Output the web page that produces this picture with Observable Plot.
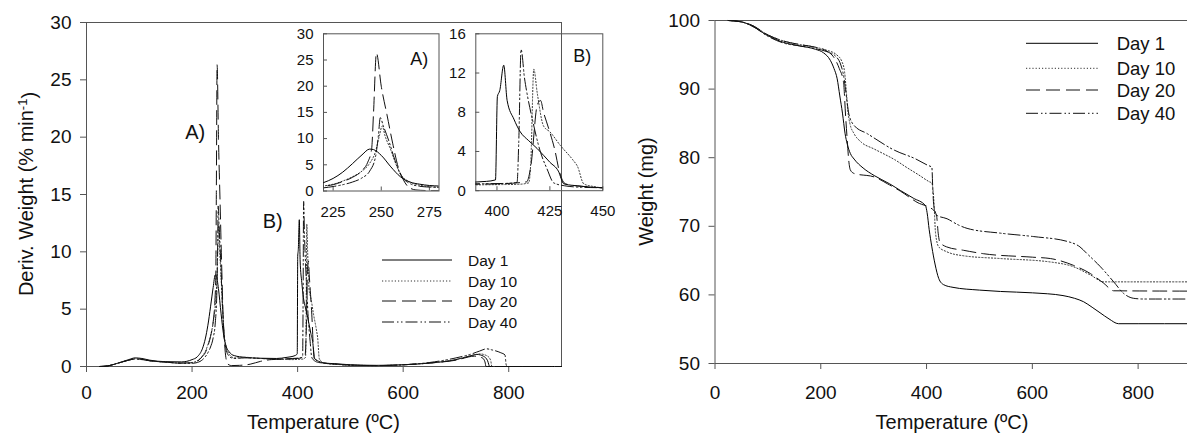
<!DOCTYPE html>
<html><head><meta charset="utf-8">
<script src="https://cdn.jsdelivr.net/npm/d3@7"></script>
<script src="https://cdn.jsdelivr.net/npm/@observablehq/plot@0.6"></script>
<style>
html,body{margin:0;padding:0;background:#fff;overflow:hidden}
#wrap{position:relative;width:1187px;height:439px;overflow:hidden;background:#fff;font-family:"Liberation Sans",Arial,sans-serif}
#wrap svg{position:absolute;top:0}
</style></head><body><div id="wrap"></div>
<script>
// ---------- data: DTG (deriv. weight, % min-1) as [temperature, value] ----------
const dtgDay1 = [[25,0],[40,0.05],[60,0.3],[80,0.6],[92,0.75],[105,0.7],[120,0.55],[150,0.42],[180,0.4],[200,0.6],[210,0.85],[220,1.6],[225,2.4],[230,3.6],[235,5.2],[240,6.9],[244,8.0],[246,7.9],[250,6.8],[255,4.6],[260,2.7],[265,1.7],[270,1.3],[275,1.05],[280,0.95],[300,0.8],[330,0.72],[360,0.7],[380,0.8],[395,0.95],[399.3,1.1],[400.2,9.6],[401.3,10.2],[403.2,12.8],[404.8,9.2],[408,7.3],[411,6.0],[415,5.1],[419,4.3],[425,2.9],[429,2.0],[431.6,0.7],[440,0.45],[450,0.3],[470,0.25],[500,0.15],[550,0.1],[600,0.15],[650,0.3],[700,0.6],[725,0.9],[740,1.05],[752,0.9],[760,0.5],[764,0],[800,0],[900,0]];
const dtgDay10 = [[25,0],[40,0.05],[60,0.3],[80,0.55],[92,0.68],[105,0.62],[120,0.5],[150,0.38],[180,0.3],[200,0.35],[210,0.5],[220,0.95],[225,1.3],[230,1.9],[235,2.7],[240,3.8],[244,5.3],[247,7.5],[249,10.5],[250.5,12.4],[252,10.5],[255,7.8],[258,4.8],[260,3.2],[265,1.7],[270,1.1],[275,0.85],[280,0.75],[300,0.8],[330,0.7],[360,0.65],[390,0.6],[400,0.62],[410,0.65],[415,0.8],[416,3],[417.4,12.4],[419,10],[422,6.6],[425,6.0],[430,4.6],[436,3.1],[438,2.5],[441,0.7],[445,0.45],[450,0.3],[470,0.2],[500,0.12],[550,0.08],[600,0.15],[650,0.3],[700,0.6],[730,0.95],[745,1.1],[760,0.9],[766,0.5],[768,0],[900,0]];
const dtgDay20 = [[25,0],[40,0.05],[60,0.3],[80,0.55],[92,0.68],[105,0.62],[120,0.5],[150,0.38],[180,0.3],[200,0.32],[210,0.45],[220,0.9],[225,1.2],[230,1.8],[235,2.6],[240,3.9],[243,5.5],[245,8.0],[246,15],[247.5,26.3],[250,20],[253,14.5],[256,9],[259,4.3],[261,2.5],[264,0.8],[268,0.2],[275,0.08],[290,0.1],[310,0.2],[330,0.45],[350,0.6],[380,0.65],[400,0.7],[414,0.9],[416,2.5],[419,8.7],[420.6,9.2],[422,8.0],[424.5,6.3],[427.6,3.9],[429.2,2.2],[432.4,0.7],[440,0.45],[450,0.3],[470,0.2],[500,0.12],[550,0.08],[600,0.15],[650,0.3],[700,0.55],[735,0.9],[750,0.75],[755,0.4],[757,0],[900,0]];
const dtgDay40 = [[25,0],[40,0.05],[60,0.3],[80,0.55],[92,0.65],[105,0.6],[120,0.5],[150,0.38],[180,0.28],[200,0.28],[210,0.35],[220,0.6],[225,0.85],[230,1.2],[235,1.7],[240,2.5],[244,3.8],[247,6.5],[248.5,10.5],[249.5,14.0],[251,12.5],[254,9.5],[257,6.0],[260,3.2],[265,1.4],[270,0.9],[275,0.75],[280,0.7],[300,0.75],[330,0.7],[360,0.65],[390,0.7],[405,0.75],[409.5,0.85],[410.3,5],[411.4,14.4],[413,11.5],[414.3,9.8],[416.7,7.3],[420.6,3.9],[423.7,2.2],[426.8,0.8],[432,0.5],[440,0.35],[450,0.3],[470,0.22],[500,0.12],[550,0.08],[600,0.15],[650,0.35],[700,0.75],[730,1.1],[745,1.35],[758,1.54],[768,1.45],[785,1.2],[793,1.0],[795,0.2],[797,0],[900,0]];

// ---------- data: TGA (weight, mg) as [temperature, value] ----------
const tgaDay1 = [[25,100],[50,99.8],[70,99.2],[100,97.8],[130,96.8],[160,96.3],[190,95.8],[205,95.3],[218,94.2],[225,93],[231,91.5],[236,89],[241,86.5],[246,83.5],[250,82],[256,80.6],[263,79.8],[280,78.5],[301,77.4],[330,76.2],[351,75.2],[375,74.1],[398,73.0],[401,72],[405,69.5],[410,67],[416,64.5],[423,62.4],[432,61.5],[450,61.1],[500,60.7],[540,60.5],[600,60.3],[658,59.9],[680,59.5],[697,59],[713,58.2],[728,57.4],[745,56.5],[763,55.8],[800,55.8],[900,55.8]];
const tgaDay10 = [[25,100],[50,99.8],[70,99.3],[100,97.9],[130,97],[160,96.5],[190,96.1],[210,95.7],[230,95],[240,94],[245,92.5],[248,90],[251,87],[255,85],[263,83.5],[276,82.3],[300,81.3],[318,80.6],[340,79.7],[362,78.6],[385,77.5],[405,76.5],[410,76.3],[414,73.5],[417,69],[423,67],[438,66.3],[470,65.7],[540,65.3],[634,64.8],[678,64.1],[710,62.9],[735,61.9],[900,61.9]];
const tgaDay20 = [[25,100],[50,99.8],[70,99.3],[100,97.9],[130,97],[160,96.5],[190,96.1],[210,95.6],[225,94.6],[235,93],[243,91],[247,86],[250,82.6],[253,79.5],[256,78.2],[263,77.7],[301,77.2],[326,76.2],[351,75.1],[382,73.5],[414,72.3],[419,71.5],[422,69],[425,67.7],[438,67],[470,66.5],[508,66],[600,65.5],[634,65.3],[678,64.3],[710,63.1],[735,61.7],[754,60.6],[900,60.55]];
const tgaDay40 = [[25,100],[50,99.8],[70,99.2],[100,97.7],[130,96.7],[160,96.3],[190,95.9],[210,95.5],[228,94.8],[238,93.5],[243,92],[246,90.4],[250,88],[253,86.4],[263,84.7],[288,83.5],[339,81.1],[380,79.8],[402,78.9],[410,78.6],[412,75],[414,72.8],[419.6,71.6],[438.8,71.1],[460,70.2],[476.6,69.7],[539.7,69],[602.7,68.5],[665.8,67.8],[690,67],[703.6,66],[728.8,64.1],[753.9,61.9],[772.8,60.2],[791.7,59.5],[810,59.4],[900,59.4]];

// ---------- categories, ticks, labels ----------
const seriesNames = ["Day 1", "Day 10", "Day 20", "Day 40"];
const mainXTicks = [0, 200, 400, 600, 800];
const dtgYTicks = [0, 5, 10, 15, 20, 25, 30];
const insetAXTicks = [225, 250, 275];
const insetAYTicks = [0, 5, 10, 15, 20, 25, 30];
const insetBXTicks = [400, 425, 450];
const insetBYTicks = [0, 4, 8, 12, 16];
const tgaYTicks = [50, 60, 70, 80, 90, 100];
const peakLabels = [{text: "A)", t: 187, v: 20.4}, {text: "B)", t: 334, v: 12.6}];
const insetALabel = [{text: "A)", t: 265, v: 25.1}];
const insetBLabel = [{text: "B)", t: 436, v: 13.7}];

const styles = [
  {stroke: "#000", dash: null},
  {stroke: "#333", dash: "1.2,2"},
  {stroke: "#111", dash: "14,6"},
  {stroke: "#111", dash: "12,3,1.5,2.5,1.5,3"}
];
const dtgSeries = [dtgDay1, dtgDay10, dtgDay20, dtgDay40];
const tgaSeries = [tgaDay1, tgaDay10, tgaDay20, tgaDay40];

const FONT = "Liberation Sans, Arial, Helvetica, sans-serif";
const AX = "#555";
const baseStyle = (fs) => ({background: "transparent", fontFamily: FONT, fontSize: fs, color: "#111", maxWidth: "none", overflow: "visible"});

function lines(seriesArr, clip) {
  return seriesArr.map((data, i) => Plot.line(data, {
    x: d => d[0], y: d => d[1], stroke: styles[i].stroke, strokeWidth: 1,
    strokeDasharray: styles[i].dash || undefined, curve: "monotone-x", clip
  }));
}

const wrap = document.getElementById("wrap");

// ---------- left main DTG chart ----------
const W = 610;
const mainDTG = Plot.plot({
  width: W, height: 439, marginLeft: 86, marginRight: W - 561, marginTop: 22, marginBottom: 73,
  x: {domain: [0, 900]}, y: {domain: [0, 30]},
  style: baseStyle("19px"),
  marks: [
    Plot.ruleY([30], {stroke: AX}),
    Plot.ruleX([900], {stroke: AX}),
    Plot.ruleX([0], {stroke: AX}),
    Plot.ruleY([0], {stroke: AX}),
    Plot.axisX({ticks: mainXTicks, tickSize: 6, tickPadding: 13, label: null, stroke: AX}),
    Plot.axisY({ticks: dtgYTicks, tickSize: 6, tickPadding: 9, label: null, stroke: AX}),
    ...lines(dtgSeries, false),
    Plot.text(peakLabels, {x: "t", y: "v", text: "text", textAnchor: "start", lineAnchor: "middle", fontSize: 20, fill: "#111"})
  ]
});
mainDTG.style.left = "0px";
wrap.appendChild(mainDTG);

// title & legend for left chart
{
  const svg = d3.select(mainDTG);
  const yt = svg.append("text").attr("transform", "translate(33,194) rotate(-90)")
    .attr("text-anchor", "middle").attr("fill", "#111").style("font-size", "20px").style("font-family", FONT);
  yt.append("tspan").text("Deriv. Weight (% min");
  yt.append("tspan").attr("dy", "-0.45em").style("font-size", "13px").text("-1");
  yt.append("tspan").attr("dy", "0.45em").text(")");
  svg.append("text").attr("x", 323.5).attr("y", 429).attr("text-anchor", "middle").attr("fill", "#111")
    .style("font-size", "20px").style("font-family", FONT).text("Temperature (ºC)");
  const ly = [260, 281, 301, 322];
  seriesNames.forEach((name, i) => {
    svg.append("line").attr("x1", 382).attr("x2", 452).attr("y1", ly[i]).attr("y2", ly[i])
      .attr("stroke", styles[i].stroke).attr("stroke-width", 1).attr("stroke-dasharray", styles[i].dash);
    svg.append("text").attr("x", 468).attr("y", ly[i]).attr("text-anchor", "start").attr("dominant-baseline", "central").attr("fill", "#111")
      .style("font-size", "15.5px").style("font-family", FONT).text(name);
  });
}

// ---------- insets ----------
function inset(xDomain, yDomain, xTicks, yTicks, left, right, bottom, lbl) {
  return Plot.plot({
    width: W, height: 439, marginLeft: left, marginRight: W - right, marginTop: 33.3, marginBottom: 439 - bottom,
    x: {domain: xDomain}, y: {domain: yDomain},
    style: baseStyle("15px"),
    marks: [
      Plot.frame({stroke: AX}),
      Plot.axisX({ticks: xTicks, tickSize: 4, dy: -4, tickFormat: () => "", label: null, stroke: AX}),
      Plot.axisY({ticks: yTicks, tickSize: 4, dx: 4, tickFormat: () => "", label: null, stroke: AX}),
      Plot.axisX({ticks: xTicks, tickSize: 0, tickPadding: 15, label: null}),
      Plot.axisY({ticks: yTicks, tickSize: 0, tickPadding: 10, label: null}),
      ...lines(dtgSeries, true),
      Plot.text(lbl, {x: "t", y: "v", text: "text", textAnchor: "start", lineAnchor: "middle", fontSize: 18, fill: "#111"})
    ]
  });
}
const insetA = inset([220, 280], [0, 30], insetAXTicks, insetAYTicks, 323, 438.5, 190.5, insetALabel);
insetA.style.left = "0px";
wrap.appendChild(insetA);
const insetB = inset([390, 450], [0, 16], insetBXTicks, insetBYTicks, 475.3, 602.3, 190.2, insetBLabel);
insetB.style.left = "0px";
wrap.appendChild(insetB);

// ---------- right TGA chart ----------
const RW = 600;
const tga = Plot.plot({
  width: RW, height: 439, marginLeft: 114.5, marginRight: RW - 590.5, marginTop: 20, marginBottom: 439 - 363,
  x: {domain: [0, 900]}, y: {domain: [50, 100]},
  style: baseStyle("19px"),
  marks: [
    Plot.ruleY([100], {stroke: AX}),
    Plot.ruleX([0], {stroke: AX}),
    Plot.ruleY([50], {stroke: AX}),
    Plot.axisX({ticks: mainXTicks, tickSize: 6, tickPadding: 16, label: null, stroke: AX}),
    Plot.axisY({ticks: tgaYTicks, tickSize: 6, tickPadding: 9, label: null, stroke: AX}),
    ...lines(tgaSeries, false)
  ]
});
tga.style.left = "600px";
wrap.appendChild(tga);
{
  const svg = d3.select(tga);
  svg.append("text").attr("transform", "translate(52.5,191.5) rotate(-90)").attr("text-anchor", "middle").attr("fill", "#111")
    .style("font-size", "20px").style("font-family", FONT).text("Weight (mg)");
  svg.append("text").attr("x", 352).attr("y", 429).attr("text-anchor", "middle").attr("fill", "#111")
    .style("font-size", "20px").style("font-family", FONT).text("Temperature (ºC)");
  const ly = [43.3, 68.3, 90, 113.3];
  seriesNames.forEach((name, i) => {
    svg.append("line").attr("x1", 426).attr("x2", 498).attr("y1", ly[i]).attr("y2", ly[i])
      .attr("stroke", styles[i].stroke).attr("stroke-width", 1).attr("stroke-dasharray", styles[i].dash);
    svg.append("text").attr("x", 516.7).attr("y", ly[i]).attr("text-anchor", "start").attr("dominant-baseline", "central").attr("fill", "#111")
      .style("font-size", "18.5px").style("font-family", FONT).text(name);
  });
}
</script></body></html>
